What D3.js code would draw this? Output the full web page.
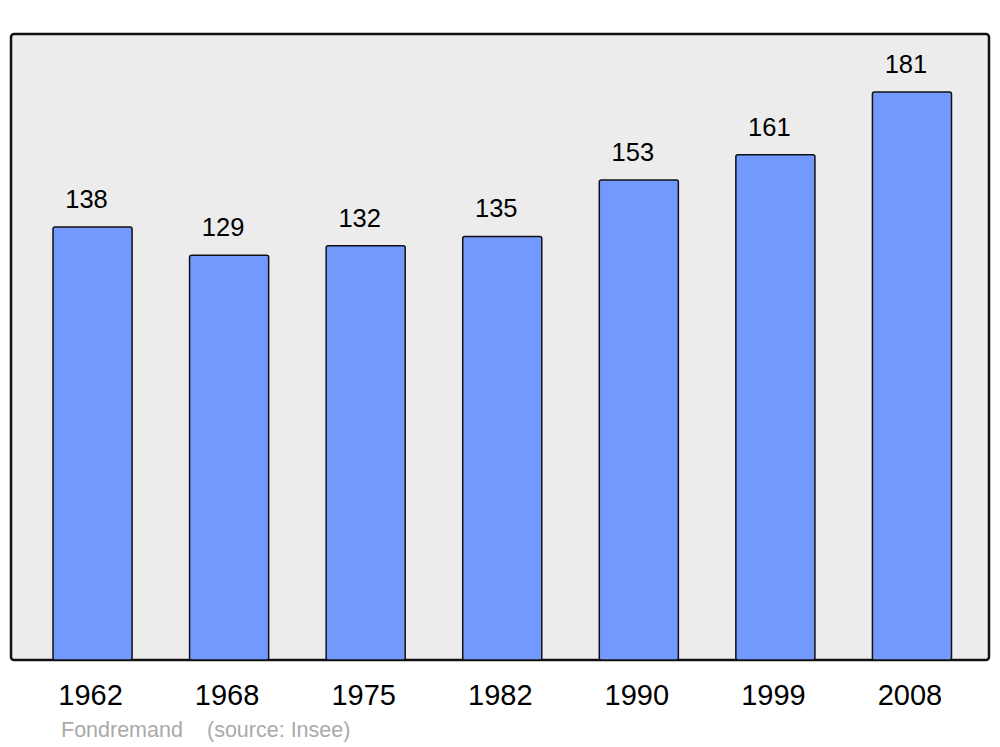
<!DOCTYPE html>
<html><head><meta charset="utf-8">
<script src="https://cdn.jsdelivr.net/npm/d3@7"></script>
<style>body{margin:0;background:#fff}svg{display:block}</style>
</head><body>
<script>
const years = ["1962","1968","1975","1982","1990","1999","2008"];
const population = [138,129,132,135,153,161,181];
const commune = "Fondremand";
const source = "(source: Insee)";

const W = 1000, H = 747;
const frame = {x0: 11, x1: 989, y0: 34, y1: 660};
const svg = d3.select("body").append("svg").attr("width", W).attr("height", H);

svg.append("rect").attr("x", frame.x0).attr("y", frame.y0)
  .attr("width", frame.x1 - frame.x0).attr("height", frame.y1 - frame.y0)
  .attr("rx", 3).attr("fill", "#ececec").attr("stroke", "#111").attr("stroke-width", 2.5);

const x = d3.scaleBand().domain(years).range([53, 951.5]).paddingInner(0.421).paddingOuter(0);
const y = d3.scaleLinear().domain([0, 199.5]).range([frame.y1, frame.y0]);

svg.selectAll("rect.bar").data(years).join("rect").attr("class","bar")
  .attr("x", d => x(d)).attr("width", x.bandwidth())
  .attr("y", (d,i) => y(population[i])).attr("height", (d,i) => frame.y1 - y(population[i]))
  .attr("rx", 2).attr("fill", "#7399ff").attr("stroke", "#111").attr("stroke-width", 1.5);

svg.selectAll("text.val").data(years).join("text").attr("class","val")
  .attr("x", d => x(d) + x.bandwidth()/2 - 6)
  .attr("y", (d,i) => y(population[i]) - 19)
  .attr("text-anchor","middle").attr("font-family","Liberation Sans, Arial, sans-serif")
  .attr("font-size", 25.5).attr("fill","#000").text((d,i) => population[i]);

const xAxis = svg.append("g").attr("transform", `translate(0,${frame.y1})`)
  .call(d3.axisBottom(x).tickSize(0).tickPadding(0));
xAxis.select(".domain").remove();
xAxis.selectAll("text").attr("dy", null).attr("y", 45).attr("x", -2)
  .attr("font-family","Liberation Sans, Arial, sans-serif").attr("font-size", 29).attr("fill","#000");

svg.append("text").attr("x", 61).attr("y", 737).attr("font-family","Liberation Sans, Arial, sans-serif")
  .attr("font-size", 21.5).attr("fill","#aaa").text(commune);
svg.append("text").attr("x", 207).attr("y", 737).attr("font-family","Liberation Sans, Arial, sans-serif")
  .attr("font-size", 21.5).attr("fill","#aaa").text(source);
</script>
</body></html>
